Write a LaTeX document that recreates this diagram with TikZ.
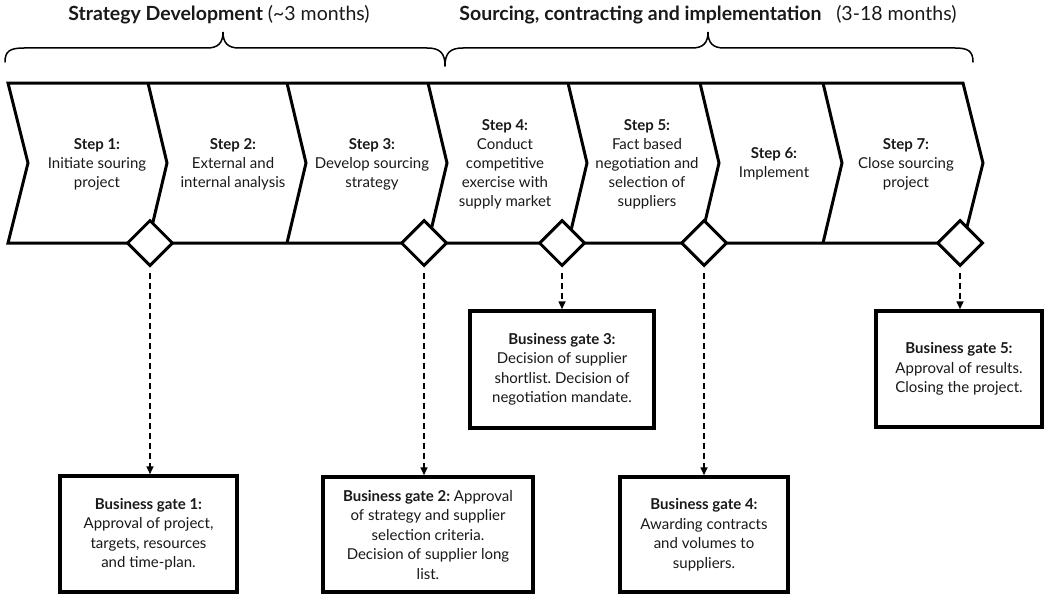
\documentclass[tikz,border=0pt]{standalone}
\usepackage{fontspec}
\setmainfont{Lato}
\usetikzlibrary{arrows.meta,shapes.geometric}
\definecolor{ink}{RGB}{25,25,25}
\frenchspacing
\begin{document}
\begin{tikzpicture}[x=1pt,y=-1pt,
  chev/.style={line width=3pt, line join=miter},
  bracepath/.style={line width=1.5pt, line cap=round},
  steptext/.style={align=center, text=ink, font=\fontsize{15}{19}\selectfont, inner sep=0pt},
  headtext/.style={text=ink, font=\fontsize{19.5}{22}\selectfont, inner sep=0pt},
  gatediamond/.style={diamond, draw, line width=3pt, fill=white, minimum size=46pt, inner sep=0pt},
  gatebox/.style={draw, line width=3.5pt, fill=white, align=center, text=ink,
    font=\fontsize{15}{19.5}\selectfont, inner sep=0pt},
  gatelink/.style={line width=1.6pt, dash pattern=on 6pt off 4pt,
    -{Triangle[length=8pt,width=7pt]}, shorten <=5pt}
]
\useasboundingbox (0,0) rectangle (1046,594);

% phase headings and braces
\node[headtext] (h1) at (219,15) {\textbf{Strategy Development} (\textasciitilde3 months)};
\node[headtext] (h2) at (708,15) {\textbf{Sourcing, contracting and implementation}\hspace{0.5em} (3-18 months)};
\draw[bracepath] (5,62) .. controls (5,51) and (10,48) .. (24,48) -- (207,48)
  .. controls (218,48) and (223,43) .. (223,32)
  .. controls (223,43) and (228,48) .. (239,48) -- (427,48)
  .. controls (440,48) and (445,53) .. (445,66);
\draw[bracepath] (445,66) .. controls (445,53) and (450,48) .. (463,48) -- (692,48)
  .. controls (703,48) and (708,43) .. (708,32)
  .. controls (708,43) and (713,48) .. (724,48) -- (955,48)
  .. controls (968,48) and (973,51) .. (973,62);

% chevron band
\draw[chev] (8,83) -- (963,83) -- (983,163) -- (963,243) -- (8,243) -- (28,163) -- cycle;
\foreach \x in {148,287,428,568,700,823}
  \draw[chev] (\x,83) -- (\x+19,163) -- (\x,243);

% step labels
\node[steptext] (s1) at (97,164) {\textbf{Step 1:}\\Initiate souring\\project};
\node[steptext] (s2) at (233,164) {\textbf{Step 2:}\\External and\\internal analysis};
\node[steptext] (s3) at (372,164) {\textbf{Step 3:}\\Develop sourcing\\strategy};
\node[steptext] (s4) at (505,164) {\textbf{Step 4:}\\Conduct\\competitive\\exercise with\\supply market};
\node[steptext] (s5) at (647,164) {\textbf{Step 5:}\\Fact based\\negotiation and\\selection of\\suppliers};
\node[steptext] (s6) at (774,164) {\textbf{Step 6:}\\Implement};
\node[steptext] (s7) at (906,164) {\textbf{Step 7:}\\Close sourcing\\project};

% decision points
\node[gatediamond] (d1) at (150,243) {};
\node[gatediamond] (d2) at (424,243) {};
\node[gatediamond] (d3) at (562,243) {};
\node[gatediamond] (d4) at (704,243) {};
\node[gatediamond] (d5) at (960,243) {};

% business gates
\node[gatebox, minimum width=177pt, minimum height=116pt] (g1) at (148.5,534)
  {\textbf{Business gate 1:}\\Approval of project,\\targets, resources\\and time-plan.};
\node[gatebox, minimum width=210pt, minimum height=115pt] (g2) at (428,534.5)
  {\textbf{Business gate 2:} Approval\\of strategy and supplier\\selection criteria.\\Decision of supplier long\\list.};
\node[gatebox, minimum width=184pt, minimum height=117pt] (g3) at (562,369.5)
  {\textbf{Business gate 3:}\\Decision of supplier\\shortlist. Decision of\\negotiation mandate.};
\node[gatebox, minimum width=168pt, minimum height=115pt] (g4) at (704,534.5)
  {\textbf{Business gate 4:}\\Awarding contracts\\and volumes to\\suppliers.};
\node[gatebox, minimum width=166pt, minimum height=116pt] (g5) at (959,369)
  {\textbf{Business gate 5:}\\Approval of results.\\Closing the project.};

% links from decision points to gates
\draw[gatelink] (d1.south) -- (d1.south |- g1.north);
\draw[gatelink] (d2.south) -- (d2.south |- g2.north);
\draw[gatelink] (d3.south) -- (d3.south |- g3.north);
\draw[gatelink] (d4.south) -- (d4.south |- g4.north);
\draw[gatelink] (d5.south) -- (d5.south |- g5.north);
\end{tikzpicture}
\end{document}
